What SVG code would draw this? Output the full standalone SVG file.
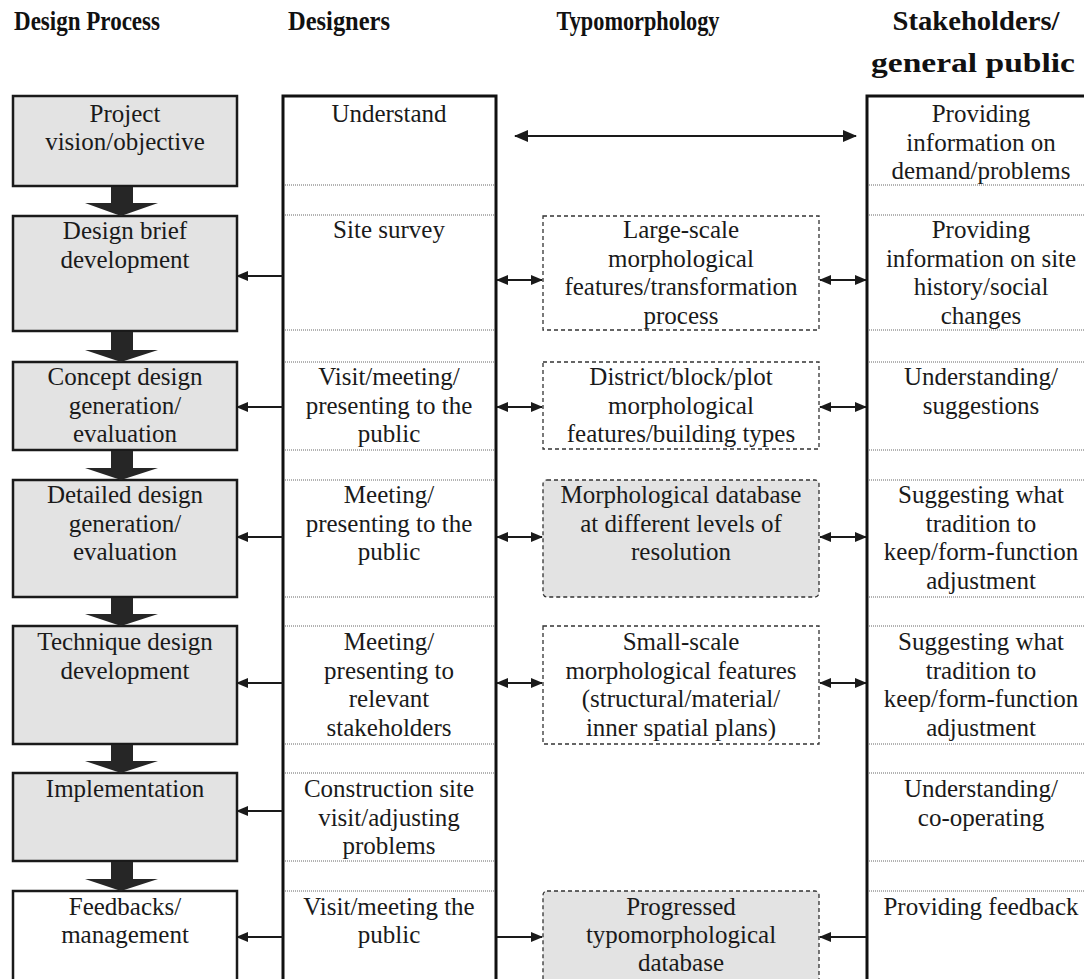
<svg xmlns="http://www.w3.org/2000/svg" width="1084" height="979" viewBox="0 0 1084 979">
<style>
  .hdr { font-family: "Liberation Serif", "Times New Roman", serif; font-weight: bold; font-size: 27px; fill: #111; text-anchor: middle; }
  .t { font-family: "Liberation Serif", "Times New Roman", serif; font-size: 25px; fill: #1a1a1a; text-anchor: middle; }
  .proc { fill: #e3e3e3; stroke: #1a1a1a; stroke-width: 2.5; }
  .procw { fill: #ffffff; stroke: #1a1a1a; stroke-width: 2.5; }
  .col { fill: #ffffff; stroke: #111; stroke-width: 3; }
  .dot { stroke: #666; stroke-width: 1; stroke-dasharray: 1 1; fill: none; }
  .dash { fill: #ffffff; stroke: #333; stroke-width: 1.3; stroke-dasharray: 4 3; }
  .dashg { fill: #e3e3e3; stroke: #333; stroke-width: 1.3; stroke-dasharray: 4 3; }
  .big { fill: #262626; }
  .conn { stroke: #1a1a1a; stroke-width: 2; fill: none; }
</style>
<defs>
  <marker id="ah" viewBox="0 0 12 10" refX="11" refY="5" markerWidth="12" markerHeight="10" markerUnits="userSpaceOnUse" orient="auto-start-reverse">
    <path d="M0,0 L12,5 L0,10 z" fill="#1a1a1a"/>
  </marker>
  <marker id="ahL" viewBox="0 0 14 12" refX="13" refY="6" markerWidth="14" markerHeight="12" markerUnits="userSpaceOnUse" orient="auto-start-reverse">
    <path d="M0,0 L14,6 L0,12 z" fill="#1a1a1a"/>
  </marker>
</defs>
<rect width="1084" height="979" fill="#ffffff"/>

<g id="headers">
  <text class="hdr" x="87" y="30" textLength="146" lengthAdjust="spacingAndGlyphs">Design Process</text>
  <text class="hdr" x="339" y="30" textLength="102" lengthAdjust="spacingAndGlyphs">Designers</text>
  <text class="hdr" x="638" y="30" textLength="163" lengthAdjust="spacingAndGlyphs">Typomorphology</text>
  <text class="hdr" x="976" y="30" textLength="167" lengthAdjust="spacingAndGlyphs">Stakeholders/</text>
  <text class="hdr" x="973" y="72" textLength="204" lengthAdjust="spacingAndGlyphs">general public</text>
</g>

<!-- Columns -->
<g id="designers-column">
  <rect class="col" x="283" y="96" width="213" height="890"/>
  <g class="dot">
    <line x1="285" y1="185" x2="494" y2="185"/><line x1="285" y1="215" x2="494" y2="215"/>
    <line x1="285" y1="330" x2="494" y2="330"/><line x1="285" y1="362" x2="494" y2="362"/>
    <line x1="285" y1="450" x2="494" y2="450"/><line x1="285" y1="480" x2="494" y2="480"/>
    <line x1="285" y1="597" x2="494" y2="597"/><line x1="285" y1="626" x2="494" y2="626"/>
    <line x1="285" y1="744" x2="494" y2="744"/><line x1="285" y1="773" x2="494" y2="773"/>
    <line x1="285" y1="861" x2="494" y2="861"/><line x1="285" y1="891" x2="494" y2="891"/>
  </g>
  <text class="t" x="389" y="122">Understand</text>
  <text class="t" x="389" y="238">Site survey</text>
  <text class="t" x="389" y="385">Visit/meeting/<tspan x="389" dy="28.5">presenting to the</tspan><tspan x="389" dy="28.5">public</tspan></text>
  <text class="t" x="389" y="503">Meeting/<tspan x="389" dy="28.5">presenting to the</tspan><tspan x="389" dy="28.5">public</tspan></text>
  <text class="t" x="389" y="650">Meeting/<tspan x="389" dy="28.5">presenting to</tspan><tspan x="389" dy="28.5">relevant</tspan><tspan x="389" dy="28.5">stakeholders</tspan></text>
  <text class="t" x="389" y="797">Construction site<tspan x="389" dy="28.5">visit/adjusting</tspan><tspan x="389" dy="28.5">problems</tspan></text>
  <text class="t" x="389" y="915">Visit/meeting the<tspan x="389" dy="28">public</tspan></text>
</g>

<g id="stakeholders-column">
  <rect class="col" x="867" y="96" width="225" height="890"/>
  <g class="dot">
    <line x1="869" y1="185" x2="1084" y2="185"/><line x1="869" y1="215" x2="1084" y2="215"/>
    <line x1="869" y1="330" x2="1084" y2="330"/><line x1="869" y1="362" x2="1084" y2="362"/>
    <line x1="869" y1="450" x2="1084" y2="450"/><line x1="869" y1="480" x2="1084" y2="480"/>
    <line x1="869" y1="597" x2="1084" y2="597"/><line x1="869" y1="626" x2="1084" y2="626"/>
    <line x1="869" y1="744" x2="1084" y2="744"/><line x1="869" y1="773" x2="1084" y2="773"/>
    <line x1="869" y1="861" x2="1084" y2="861"/><line x1="869" y1="891" x2="1084" y2="891"/>
  </g>
  <text class="t" x="981" y="122">Providing<tspan x="981" dy="28.5">information on</tspan><tspan x="981" dy="28.5">demand/problems</tspan></text>
  <text class="t" x="981" y="238">Providing<tspan x="981" dy="28.5">information on site</tspan><tspan x="981" dy="28.5">history/social</tspan><tspan x="981" dy="28.5">changes</tspan></text>
  <text class="t" x="981" y="385">Understanding/<tspan x="981" dy="28.5">suggestions</tspan></text>
  <text class="t" x="981" y="503">Suggesting what<tspan x="981" dy="28.5">tradition to</tspan><tspan x="981" dy="28.5">keep/form-function</tspan><tspan x="981" dy="28.5">adjustment</tspan></text>
  <text class="t" x="981" y="650">Suggesting what<tspan x="981" dy="28.5">tradition to</tspan><tspan x="981" dy="28.5">keep/form-function</tspan><tspan x="981" dy="28.5">adjustment</tspan></text>
  <text class="t" x="981" y="797">Understanding/<tspan x="981" dy="28.5">co-operating</tspan></text>
  <text class="t" x="981" y="915">Providing feedback</text>
</g>

<!-- Design process nodes -->
<g id="p1"><rect class="proc" x="13" y="96" width="224" height="90"/>
  <text class="t" x="125" y="122">Project<tspan x="125" dy="28">vision/objective</tspan></text></g>
<g id="p2"><rect class="proc" x="13" y="216" width="224" height="115"/>
  <text class="t" x="125" y="239">Design brief<tspan x="125" dy="28.5">development</tspan></text></g>
<g id="p3"><rect class="proc" x="13" y="362" width="224" height="88"/>
  <text class="t" x="125" y="385">Concept design<tspan x="125" dy="28.5">generation/</tspan><tspan x="125" dy="28.5">evaluation</tspan></text></g>
<g id="p4"><rect class="proc" x="13" y="480" width="224" height="117"/>
  <text class="t" x="125" y="503">Detailed design<tspan x="125" dy="28.5">generation/</tspan><tspan x="125" dy="28.5">evaluation</tspan></text></g>
<g id="p5"><rect class="proc" x="13" y="626" width="224" height="118"/>
  <text class="t" x="125" y="650">Technique design<tspan x="125" dy="28.5">development</tspan></text></g>
<g id="p6"><rect class="proc" x="13" y="773" width="224" height="88"/>
  <text class="t" x="125" y="797">Implementation</text></g>
<g id="p7"><rect class="procw" x="13" y="891" width="224" height="95"/>
  <text class="t" x="125" y="915">Feedbacks/<tspan x="125" dy="28">management</tspan></text></g>

<!-- Typomorphology nodes -->
<g id="m1"><rect class="dash" x="543" y="216" width="276" height="114"/>
  <text class="t" x="681" y="238">Large-scale<tspan x="681" dy="28.5">morphological</tspan><tspan x="681" dy="28.5">features/transformation</tspan><tspan x="681" dy="28.5">process</tspan></text></g>
<g id="m2"><rect class="dash" x="543" y="362" width="276" height="87"/>
  <text class="t" x="681" y="385">District/block/plot<tspan x="681" dy="28.5">morphological</tspan><tspan x="681" dy="28.5">features/building types</tspan></text></g>
<g id="m3"><rect class="dashg" x="543" y="480" width="276" height="117" rx="4"/>
  <text class="t" x="681" y="503">Morphological database<tspan x="681" dy="28.5">at different levels of</tspan><tspan x="681" dy="28.5">resolution</tspan></text></g>
<g id="m4"><rect class="dash" x="543" y="626" width="276" height="118"/>
  <text class="t" x="681" y="650">Small-scale<tspan x="681" dy="28.5">morphological features</tspan><tspan x="681" dy="28.5">(structural/material/</tspan><tspan x="681" dy="28.5">inner spatial plans)</tspan></text></g>
<g id="m5"><rect class="dashg" x="543" y="891" width="276" height="95" rx="4"/>
  <text class="t" x="681" y="915">Progressed<tspan x="681" dy="28">typomorphological</tspan><tspan x="681" dy="28">database</tspan></text></g>

<!-- Connectors -->
<g id="connectors">
  <g class="big">
    <path d="M111,187 H133 V203 H158 L121,216 L85,203 H111 Z"/>
    <path d="M111,332 H133 V350 H158 L121,362 L85,350 H111 Z"/>
    <path d="M111,451 H133 V468 H158 L121,480 L85,468 H111 Z"/>
    <path d="M111,598 H133 V614 H158 L121,626 L85,614 H111 Z"/>
    <path d="M111,745 H133 V761 H158 L121,773 L85,761 H111 Z"/>
    <path d="M111,862 H133 V879 H158 L121,891 L85,879 H111 Z"/>
  </g>
  <line class="conn" x1="515" y1="136" x2="856" y2="136" marker-start="url(#ahL)" marker-end="url(#ahL)"/>
  <g class="conn">
    <line x1="283" y1="276" x2="237" y2="276" marker-end="url(#ah)"/>
    <line x1="283" y1="407" x2="237" y2="407" marker-end="url(#ah)"/>
    <line x1="283" y1="537" x2="237" y2="537" marker-end="url(#ah)"/>
    <line x1="283" y1="683" x2="237" y2="683" marker-end="url(#ah)"/>
    <line x1="283" y1="811" x2="237" y2="811" marker-end="url(#ah)"/>
    <line x1="283" y1="937" x2="237" y2="937" marker-end="url(#ah)"/>

    <line x1="497" y1="280" x2="542" y2="280" marker-start="url(#ah)" marker-end="url(#ah)"/>
    <line x1="820" y1="280" x2="866" y2="280" marker-start="url(#ah)" marker-end="url(#ah)"/>
    <line x1="497" y1="407" x2="542" y2="407" marker-start="url(#ah)" marker-end="url(#ah)"/>
    <line x1="820" y1="407" x2="866" y2="407" marker-start="url(#ah)" marker-end="url(#ah)"/>
    <line x1="497" y1="537" x2="542" y2="537" marker-start="url(#ah)" marker-end="url(#ah)"/>
    <line x1="820" y1="537" x2="866" y2="537" marker-start="url(#ah)" marker-end="url(#ah)"/>
    <line x1="497" y1="683" x2="542" y2="683" marker-start="url(#ah)" marker-end="url(#ah)"/>
    <line x1="820" y1="683" x2="866" y2="683" marker-start="url(#ah)" marker-end="url(#ah)"/>

    <line x1="497" y1="937" x2="542" y2="937" marker-end="url(#ah)"/>
    <line x1="866" y1="937" x2="820" y2="937" marker-end="url(#ah)"/>
  </g>
</g>
</svg>
